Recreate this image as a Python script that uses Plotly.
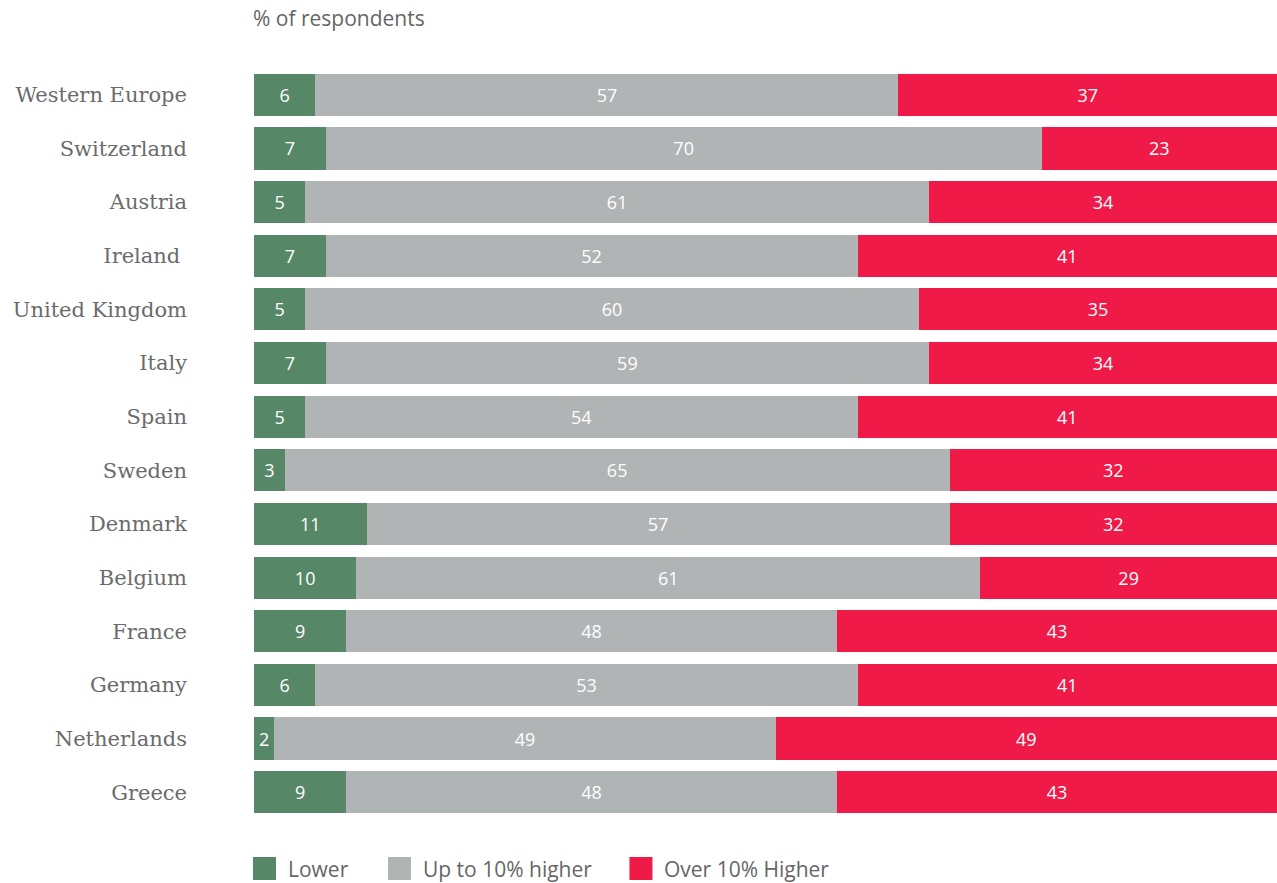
import plotly.graph_objects as go

categories = ["Western Europe", "Switzerland", "Austria", "Ireland ", "United Kingdom",
              "Italy", "Spain", "Sweden", "Denmark", "Belgium", "France", "Germany",
              "Netherlands", "Greece"]
lower = [6, 7, 5, 7, 5, 7, 5, 3, 11, 10, 9, 6, 2, 9]
up_to_10 = [57, 70, 61, 52, 60, 59, 54, 65, 57, 61, 48, 53, 49, 48]
over_10 = [37, 23, 34, 41, 35, 34, 41, 32, 32, 29, 43, 41, 49, 43]

series = [
    ("Lower", lower, "#568766"),
    ("Up to 10% higher", up_to_10, "#b1b4b5"),
    ("Over 10% Higher", over_10, "#ef1a47"),
]

sans = "Open Sans"
fig = go.Figure()
for name, vals, color in series:
    fig.add_trace(go.Bar(
        y=categories, x=vals, name=name, orientation="h",
        marker=dict(color=color, line=dict(width=0)),
        text=[str(v) for v in vals], textposition="inside",
        insidetextanchor="middle", constraintext="none",
        textfont=dict(family=sans, size=18, color="white"),
        hoverinfo="x+y+name", showlegend=False,
    ))

# Legend drawn as square swatches with labels below the bars
legend_items = [(0.0, "Lower"), (0.132, "Up to 10% higher"), (0.368, "Over 10% Higher")]
shapes, annotations = [], []
for (x0, label), (_, _, color) in zip(legend_items, series):
    shapes.append(dict(type="rect", xref="paper", yref="paper",
                       x0=x0 - 0.001, x1=x0 + 0.0215, y0=-0.0506, y1=-0.0812,
                       fillcolor=color, line=dict(width=0)))
    annotations.append(dict(xref="paper", yref="paper", x=x0 + 0.031, y=-0.0666,
                            text=label, showarrow=False, xanchor="left", yanchor="middle",
                            font=dict(family=sans, size=21, color="#666666")))

annotations.append(dict(xref="paper", yref="paper", x=-0.003, y=1.0666, text="% of respondents",
                        showarrow=False, xanchor="left", yanchor="middle",
                        font=dict(family=sans, size=21, color="#666666")))

fig.update_layout(
    barmode="stack", bargap=0.215,
    width=1277, height=883,
    margin=dict(l=254, r=0, t=68, b=64),
    plot_bgcolor="white", paper_bgcolor="white",
    xaxis=dict(range=[0, 100], visible=False, fixedrange=True),
    yaxis=dict(autorange="reversed", showgrid=False, zeroline=False, showline=False,
               ticks="", ticklabelstandoff=66,
               tickfont=dict(family="DejaVu Serif", size=21, color="#6b6b6b")),
    shapes=shapes, annotations=annotations,
    uniformtext=dict(minsize=10, mode="show"),
)

fig.write_html("out.html")
